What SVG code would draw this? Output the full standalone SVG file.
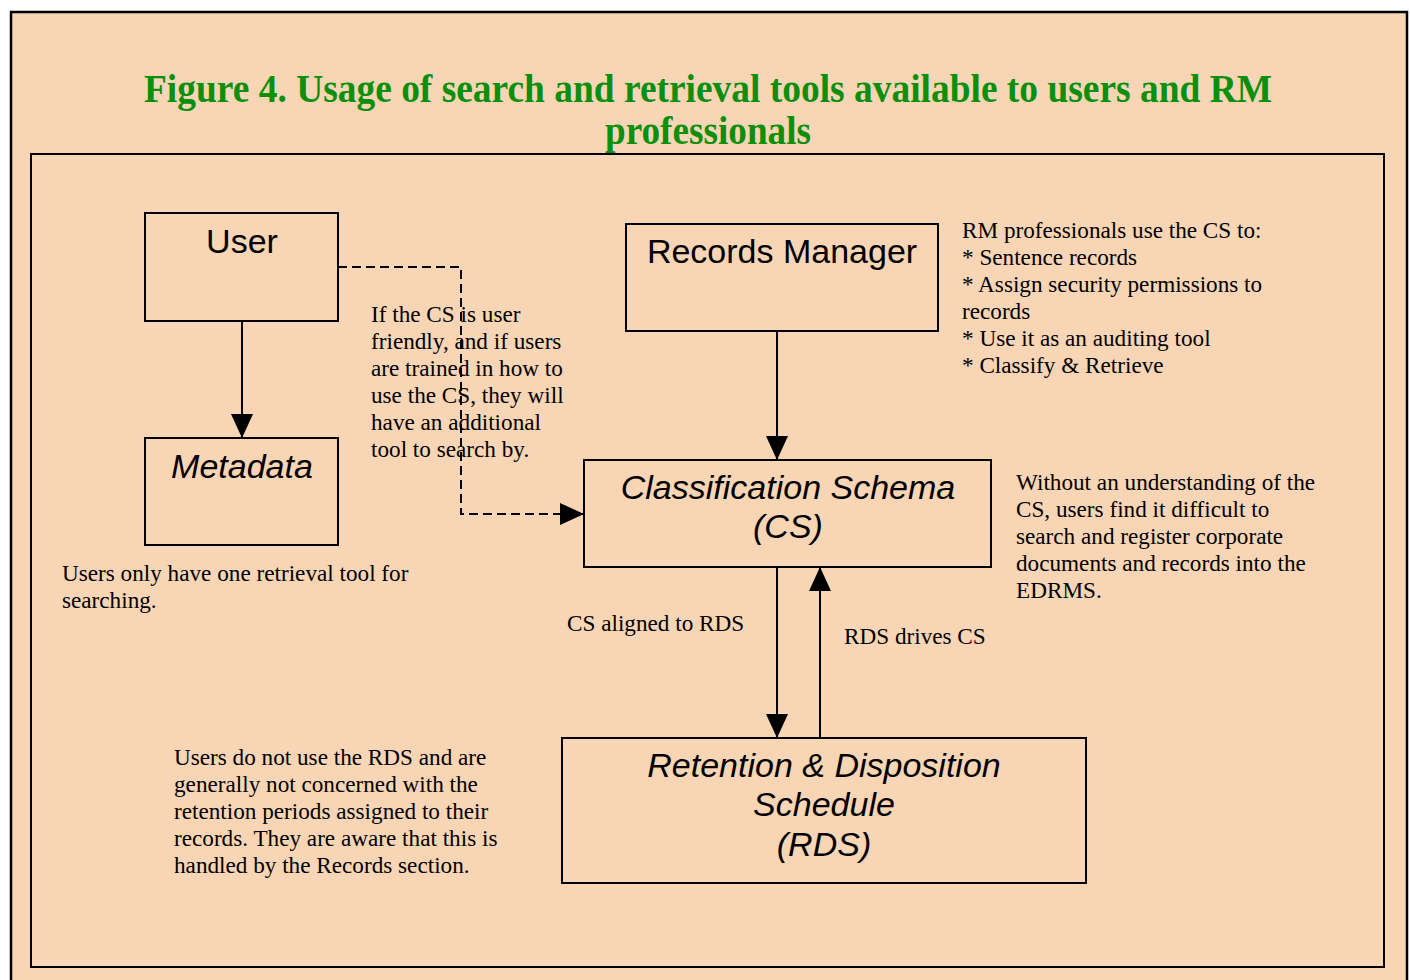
<svg xmlns="http://www.w3.org/2000/svg" width="1410" height="980" viewBox="0 0 1410 980">
<style>
.box{fill:none;stroke:#000;stroke-width:2}
.lbl{font-family:"Liberation Sans",Arial,sans-serif;font-size:34px;fill:#000;text-anchor:middle}
.it{font-style:italic}
.note{font-family:"Liberation Serif","Times New Roman",serif;font-size:23.2px;fill:#000}
.title{font-family:"Liberation Serif","Times New Roman",serif;font-size:40px;font-weight:bold;fill:#0c8f0c;text-anchor:middle}
.con{stroke:#000;stroke-width:2;fill:none}
</style>
<defs>
<marker id="ahb" viewBox="0 0 24 24" markerWidth="24" markerHeight="24" refX="24" refY="12" orient="auto" markerUnits="userSpaceOnUse">
<path d="M0,1 L24,12 L0,23 z" fill="#000"/>
</marker>
</defs>
<rect x="0" y="0" width="1410" height="980" fill="#fff"/>
<rect x="11" y="12" width="1396" height="980" fill="#f8d5b4" stroke="#000" stroke-width="2.5"/>
<g id="title">
<text class="title" x="708" y="102" textLength="1128" lengthAdjust="spacingAndGlyphs">Figure 4. Usage of search and retrieval tools available to users and RM</text>
<text class="title" x="708" y="144" textLength="206" lengthAdjust="spacingAndGlyphs">professionals</text>
</g>
<rect x="31" y="154" width="1353" height="813" fill="none" stroke="#000" stroke-width="2"/>
<g id="connectors">
<line class="con" x1="242" y1="321" x2="242" y2="438" marker-end="url(#ahb)"/>
<line class="con" x1="777" y1="331" x2="777" y2="460" marker-end="url(#ahb)"/>
<line class="con" x1="777" y1="567" x2="777" y2="738" marker-end="url(#ahb)"/>
<line class="con" x1="820" y1="738" x2="820" y2="567" marker-end="url(#ahb)"/>
<path class="con" d="M338,267 H461 V514 H584" stroke-dasharray="9,5" marker-end="url(#ahb)"/>
</g>
<g id="user">
<rect class="box" x="145" y="213" width="193" height="108"/>
<text class="lbl" x="242" y="253">User</text>
</g>
<g id="metadata">
<rect class="box" x="145" y="438" width="193" height="107"/>
<text class="lbl it" x="242" y="478">Metadata</text>
</g>
<g id="records-manager">
<rect class="box" x="626" y="224" width="312" height="107"/>
<text class="lbl" x="782" y="263">Records Manager</text>
</g>
<g id="cs">
<rect class="box" x="584" y="460" width="407" height="107"/>
<text class="lbl it" x="788" y="499">Classification Schema</text>
<text class="lbl it" x="788" y="538">(CS)</text>
</g>
<g id="rds">
<rect class="box" x="562" y="738" width="524" height="145"/>
<text class="lbl it" x="824" y="777">Retention &amp; Disposition</text>
<text class="lbl it" x="824" y="816">Schedule</text>
<text class="lbl it" x="824" y="856">(RDS)</text>
</g>
<g id="notes">
<text class="note" x="371" y="322">If the CS is user</text>
<text class="note" x="371" y="349">friendly, and if users</text>
<text class="note" x="371" y="376">are trained in how to</text>
<text class="note" x="371" y="403">use the CS, they will</text>
<text class="note" x="371" y="430">have an additional</text>
<text class="note" x="371" y="457">tool to search by.</text>

<text class="note" x="962" y="238">RM professionals use the CS to:</text>
<text class="note" x="962" y="265">* Sentence records</text>
<text class="note" x="962" y="292">* Assign security permissions to</text>
<text class="note" x="962" y="319">records</text>
<text class="note" x="962" y="346">* Use it as an auditing tool</text>
<text class="note" x="962" y="373">* Classify &amp; Retrieve</text>

<text class="note" x="1016" y="490">Without an understanding of the</text>
<text class="note" x="1016" y="517">CS, users find it difficult to</text>
<text class="note" x="1016" y="544">search and register corporate</text>
<text class="note" x="1016" y="571">documents and records into the</text>
<text class="note" x="1016" y="598">EDRMS.</text>

<text class="note" x="62" y="581">Users only have one retrieval tool for</text>
<text class="note" x="62" y="608">searching.</text>

<text class="note" x="567" y="631">CS aligned to RDS</text>
<text class="note" x="844" y="644">RDS drives CS</text>

<text class="note" x="174" y="765">Users do not use the RDS and are</text>
<text class="note" x="174" y="792">generally not concerned with the</text>
<text class="note" x="174" y="819">retention periods assigned to their</text>
<text class="note" x="174" y="846">records. They are aware that this is</text>
<text class="note" x="174" y="873">handled by the Records section.</text>
</g>
</svg>
